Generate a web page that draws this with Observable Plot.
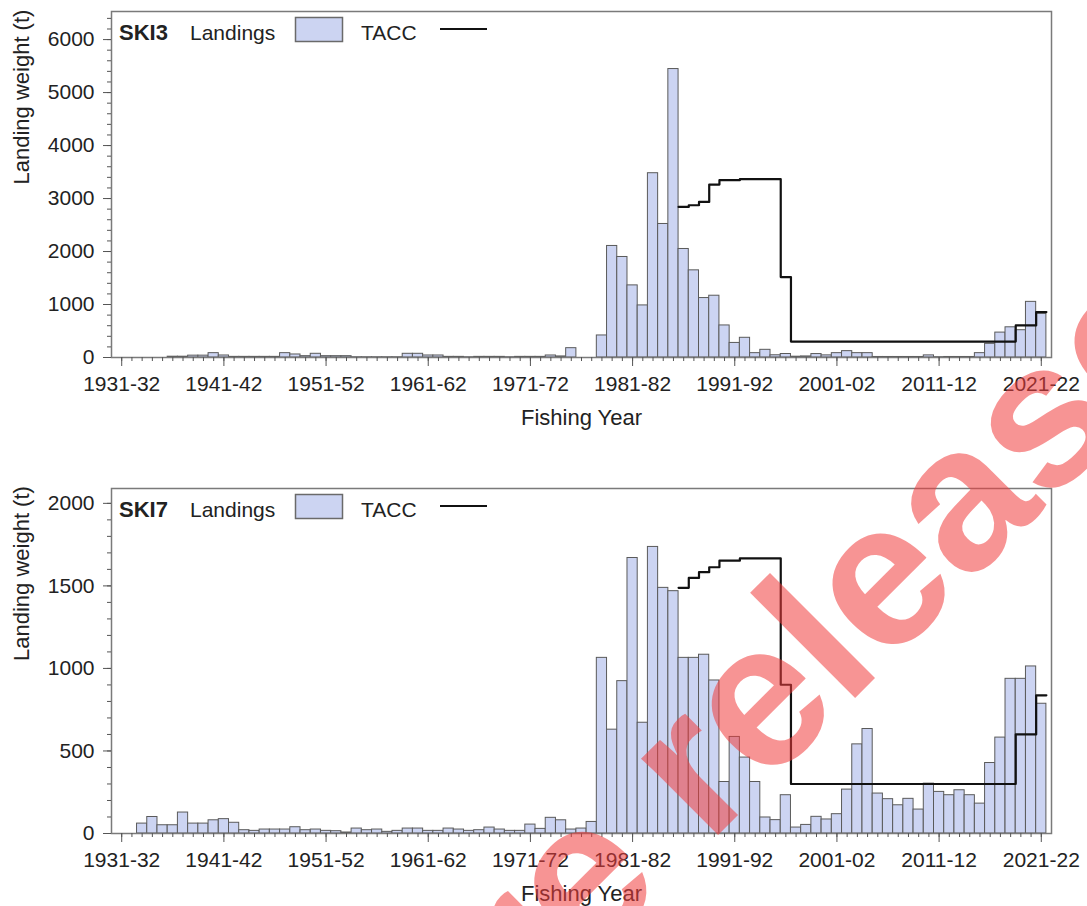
<!DOCTYPE html>
<html><head><meta charset="utf-8">
<script src="https://cdn.jsdelivr.net/npm/d3@7"></script>
<script src="https://cdn.jsdelivr.net/npm/@observablehq/plot@0.6"></script>
<style>
body{margin:0;background:#fff;font-family:"Liberation Sans",Arial,sans-serif;}
#page{position:relative;width:1087px;height:906px;overflow:hidden;}
.chart{position:relative;width:1087px;height:453px;}
.chart svg{display:block;}
.overlay{position:absolute;left:0;top:0;pointer-events:none;}
</style></head><body><div id="page"></div>
<script>
// ---- data ----
const years = d3.range(1931, 2022); // fishing years 1931-32 ... 2021-22
const majorTickYears = [1931, 1941, 1951, 1961, 1971, 1981, 1991, 2001, 2011, 2021];

const ski3Landings = [
  0,0,0,0,0, 15,15,35,35,82, 38,12,12,12,12, 12,82,57,25,70,
  25,25,25,5,5, 5,5,5,70,70, 38,38,12,12,5, 12,12,12,5,12,
  12,12,38,20,176, 0,0,416,2105,1897, 1361,983,3478,2520,5444,
  2048,1645,1122,1166,605, 275,372,82,145,42, 66,15,20,65,40,
  82,120,82,82,10, 10,10,10,10,40, 6,10,10,10,82,
  258,470,570,515,1050, 825
];
const ski7Landings = [
  0,0,60,100,50, 50,127,60,60,80, 87,65,20,16,24, 24,24,38,20,24,
  16,14,6,30,20, 24,10,16,30,30, 16,16,30,24,16, 20,36,24,16,16,
  54,28,95,80,24, 30,70,1064,629,923, 1669,671,1736,1488,1468,
  1064,1064,1083,927,312, 585,460,312,97,81, 232,36,52,101,85,
  117,266,540,633,242, 208,171,210,145,302, 252,232,262,232,181,
  427,581,937,937,1012, 786
];
const taccYears = d3.range(1986, 2022);
const ski3TACC = [
  2842,2873,2936,3264,3346,3346,3365,3365,3365,3365,1518,
  300,300,300,300,300,300,300,300,300,300,300,300,300,300,300,300,300,300,300,300,300,300,
  605,605,857
];
const ski7TACC = [
  1488,1548,1583,1613,1653,1653,1667,1667,1667,1667,901,
  300,300,300,300,300,300,300,300,300,300,300,300,300,300,300,300,300,300,300,300,300,300,
  600,600,837
];
const ski3YTicks = [0,1000,2000,3000,4000,5000,6000];
const ski7YTicks = [0,500,1000,1500,2000];

// ---- styles ----
const FONT = '"Liberation Sans", Arial, sans-serif';
const BAR_FILL = "#ccd4f2";
const BAR_STROKE = "#5a5a5a";
const W = 1087, H = 453, ML = 111, MR = 36;

const fyFormat = y => `${y}-${String((y + 1) % 100).padStart(2, "0")}`;

function makeChart({stock, landings, tacc, yMax, yTicks, yMinorStep, marginTop, marginBottom}) {
  const bars = years.map((y, i) => ({year: y, value: landings[i]})).filter(d => d.value > 0);
  const steps = taccYears.map((y, i) => ({x: y - 0.5, v: tacc[i]}));
  steps.push({x: taccYears[taccYears.length - 1] + 0.5, v: tacc[tacc.length - 1]});
  const plot = Plot.plot({
    width: W, height: H,
    marginLeft: ML, marginRight: MR, marginTop, marginBottom,
    style: {fontFamily: FONT, fontSize: "21px", color: "#222", background: "#fff"},
    x: {domain: [1930, 2022], label: null},
    y: {domain: [0, yMax], label: null},
    marks: [
      Plot.rectY(bars, {x1: d => d.year - 0.5, x2: d => d.year + 0.5, y: "value",
        fill: BAR_FILL, stroke: BAR_STROKE, strokeWidth: 1}),
      Plot.line(steps, {x: "x", y: "v", curve: "step-after", stroke: "#111", strokeWidth: 2.2}),
      Plot.frame({stroke: "#7a7a7a", strokeWidth: 1.5}),
      Plot.axisX({ticks: years, tickSize: 4, tickFormat: () => "", stroke: "#555", label: null}),
      Plot.axisX({ticks: majorTickYears, tickSize: 9, tickPadding: 10, tickFormat: fyFormat,
        stroke: "#555", fill: "#222", label: null}),
      Plot.axisY({ticks: d3.range(0, yMax, yMinorStep), tickSize: 4, tickFormat: () => "", stroke: "#555", label: null}),
      Plot.axisY({ticks: yTicks, tickSize: 8, tickPadding: 9, tickFormat: d => String(d),
        stroke: "#555", fill: "#222", label: null}),
      Plot.text(["Fishing Year"], {frameAnchor: "bottom", dy: 52, lineAnchor: "top",
        fontSize: 22, fill: "#222"}),
      Plot.text(["Landing weight (t)"], {frameAnchor: "left", dx: -90, rotate: -90,
        fontSize: 22, fill: "#222"})
    ]
  });
  const wrap = document.createElement("div");
  wrap.className = "chart";
  wrap.appendChild(plot);
  // in-frame legend
  const lg = d3.select(wrap).append("svg").attr("class", "overlay")
    .attr("width", W).attr("height", 80)
    .style("font-family", FONT);
  const t = marginTop;
  lg.append("text").attr("x", ML + 8).attr("y", t + 29).attr("font-size", 22)
    .attr("font-weight", "bold").attr("fill", "#222").text(stock);
  lg.append("text").attr("x", ML + 79).attr("y", t + 29).attr("font-size", 21)
    .attr("fill", "#222").text("Landings");
  lg.append("rect").attr("x", ML + 184.5).attr("y", t + 6.5).attr("width", 47).attr("height", 24)
    .attr("fill", BAR_FILL).attr("stroke", "#6a6a6a").attr("stroke-width", 1.5);
  lg.append("text").attr("x", ML + 250).attr("y", t + 29).attr("font-size", 21)
    .attr("fill", "#222").text("TACC");
  lg.append("line").attr("x1", ML + 329).attr("x2", ML + 376).attr("y1", t + 18).attr("y2", t + 18)
    .attr("stroke", "#111").attr("stroke-width", 2.2);
  return wrap;
}

const page = document.getElementById("page");
page.appendChild(makeChart({stock: "SKI3", landings: ski3Landings, tacc: ski3TACC,
  yMax: 6530, yTicks: ski3YTicks, yMinorStep: 200, marginTop: 11, marginBottom: 96}));
page.appendChild(makeChart({stock: "SKI7", landings: ski7Landings, tacc: ski7TACC,
  yMax: 2090, yTicks: ski7YTicks, yMinorStep: 100, marginTop: 35, marginBottom: 73}));

// watermark
const wm = d3.select(page).append("svg").attr("class", "overlay")
  .attr("width", 1087).attr("height", 906);
wm.append("text").attr("transform", "translate(434,1119) rotate(-45)")
  .attr("font-family", FONT).attr("font-size", 205).attr("font-weight", "bold")
  .attr("fill", "rgb(240,60,60)").attr("fill-opacity", 0.55).text("Pre release");
</script></body></html>
